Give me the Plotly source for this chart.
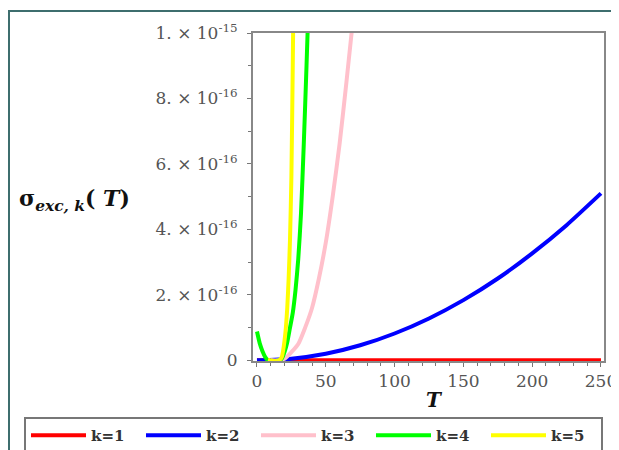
import plotly.graph_objects as go

# ---- data (values in units of 1e-16) ----
T_red = [0, 50, 100, 150, 200, 250]
s_red = [0, 0, 0, 0, 0, 0]

T_blue = [0, 25, 50, 75, 100, 125, 150, 175, 200, 225, 250]
s_blue = [0, 0.05, 0.2, 0.46, 0.82, 1.28, 1.84, 2.5, 3.27, 4.13, 5.1]

T_pink = [10, 15, 20, 25, 30, 35, 40, 45, 50, 55, 60, 65, 70]
s_pink = [0, 0, 0.05, 0.25, 0.5, 1.0, 1.6, 2.5, 3.6, 5.0, 6.6, 8.5, 10.5]

T_green = [0, 2, 4, 6, 8, 10, 13, 16, 18, 20, 22, 24, 26, 28, 30, 32, 34, 36, 38]
s_green = [0.88, 0.52, 0.28, 0.1, 0.0, -0.03, -0.02, 0.0, 0.05, 0.25, 0.55, 1.0,
           1.45, 2.15, 3.1, 4.5, 6.6, 9.0, 11.6]

T_yellow = [8, 10, 12, 14, 16, 18, 19, 20, 21, 22, 23, 24, 25, 26, 27]
s_yellow = [0.02, 0, -0.02, -0.02, 0, 0.1, 0.3, 0.6, 1.0, 1.6, 2.5, 3.7, 5.6, 9.0, 13]

series_names = ["k=1", "k=2", "k=3", "k=4", "k=5"]
series_colors = ["#ff0000", "#0000ff", "#ffc0cb", "#00ff00", "#ffff00"]

y_tickvals = [0, 2e-16, 4e-16, 6e-16, 8e-16, 1e-15]
y_ticktext = ["0", "2. × 10<sup>-16</sup>", "4. × 10<sup>-16</sup>",
              "6. × 10<sup>-16</sup>", "8. × 10<sup>-16</sup>", "1. × 10<sup>-15</sup>"]
x_tickvals = [0, 50, 100, 150, 200, 250]

SCALE = 1e-16
all_T = [T_red, T_blue, T_pink, T_green, T_yellow]
all_s = [s_red, s_blue, s_pink, s_green, s_yellow]

fig = go.Figure()
for name, col, tt, ss in zip(series_names, series_colors, all_T, all_s):
    fig.add_trace(go.Scatter(
        x=tt, y=[v * SCALE for v in ss], mode="lines", name="<b>" + name + "</b>",
        line=dict(color=col, width=4, shape="spline", smoothing=0.6),
    ))

# page body has an 8px margin: work in screen pixels and shift
OFF = 8
W, H = 619 - OFF, 450 - OFF
L, R, TOP, BOT = 253 - OFF, 604 - OFF, 33 - OFF, 361 - OFF
pw, ph = R - L, BOT - TOP

def px(sx):
    return (sx - OFF - L) / pw

def py(sy):
    return (BOT - (sy - OFF)) / ph

tickfont = dict(family="DejaVu Serif", size=17, color="#555555")

fig.update_layout(
    width=W, height=H,
    margin=dict(l=L, r=W - R, t=TOP, b=H - BOT, autoexpand=False),
    paper_bgcolor="white", plot_bgcolor="white",
    showlegend=True,
    legend=dict(
        orientation="h", x=px(24), y=py(417), xanchor="left", yanchor="top",
        bordercolor="#777777", borderwidth=2, bgcolor="white",
        font=dict(family="DejaVu Serif", size=15, color="#333333"),
        itemwidth=55,
        entrywidth=45, entrywidthmode="pixels",
        tracegroupgap=0,
    ),
    xaxis=dict(
        range=[-2.9, 252.2], tickvals=x_tickvals, ticks="outside", ticklen=4,
        tickcolor="#777777", tickfont=tickfont,
        showline=True, mirror=True, linecolor="#888888", linewidth=2,
        showgrid=False, zeroline=False,
        minor=dict(dtick=10, ticks="outside", ticklen=3, tickcolor="#777777", showgrid=False),
    ),
    yaxis=dict(
        range=[-2e-18, 1e-15], tickvals=y_tickvals, ticktext=y_ticktext,
        ticks="outside", ticklen=4, tickcolor="#777777", tickfont=tickfont,
        ticklabelstandoff=6,
        showline=True, mirror=True, linecolor="#888888", linewidth=2,
        showgrid=False, zeroline=False,
        minor=dict(dtick=1e-16, ticks="outside", ticklen=3, tickcolor="#777777", showgrid=False),
    ),
    annotations=[
        dict(text="<b>σ<sub><i>exc, k</i></sub>( <i>T</i>)</b>", xref="paper", yref="paper",
             x=px(17), y=py(200), xanchor="left", yanchor="middle", showarrow=False,
             font=dict(family="DejaVu Serif", size=22, color="#111111")),
        dict(text="<b><i>T</i></b>", xref="paper", yref="paper",
             x=px(434), y=py(400), xanchor="center", yanchor="middle", showarrow=False,
             font=dict(family="DejaVu Serif", size=20, color="#111111")),
    ],
    shapes=[
        dict(type="line", xref="paper", yref="paper", x0=px(8), x1=px(619), y0=py(11), y1=py(11),
             line=dict(color="#3d6e6e", width=2)),
        dict(type="line", xref="paper", yref="paper", x0=px(9), x1=px(9), y0=py(11), y1=py(450),
             line=dict(color="#3d6e6e", width=2)),
    ],
)

fig.write_html("out.html")
